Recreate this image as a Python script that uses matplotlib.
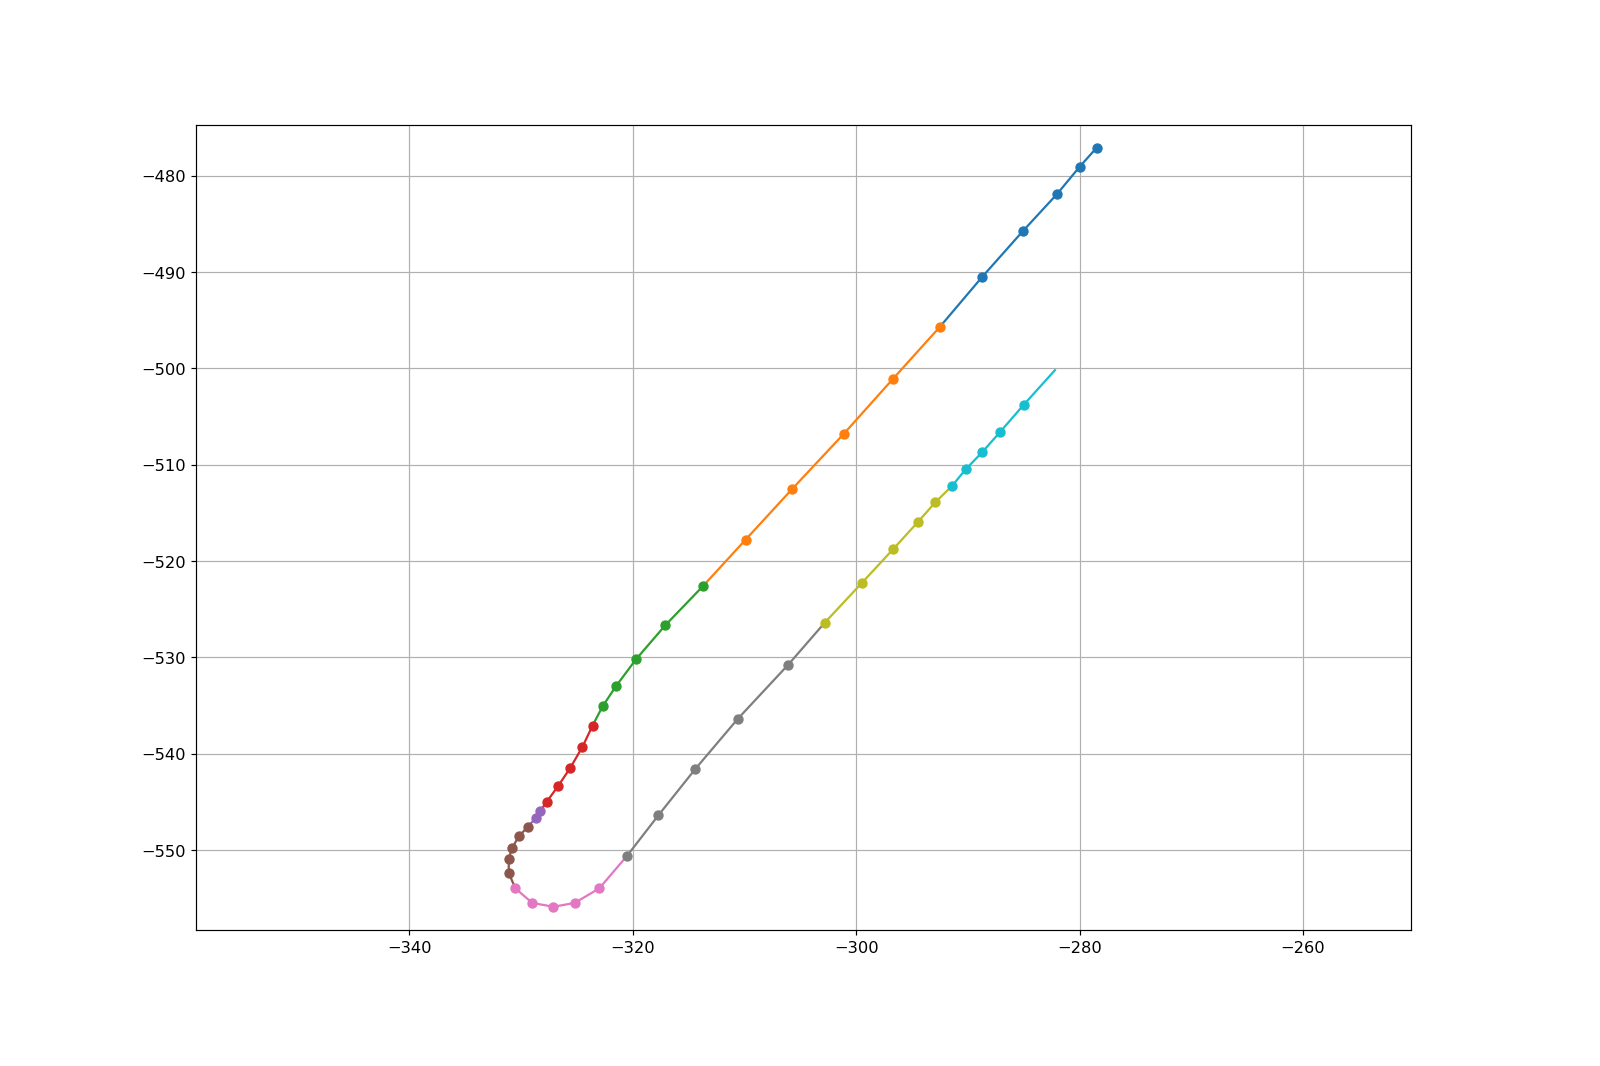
import matplotlib
matplotlib.use('Agg')
import matplotlib.pyplot as plt

# segments of the trajectory, one colour each
blue_x = [-278.46, -280.0, -282.0, -285.1, -288.7]
blue_y = [-477.1, -479.1, -481.9, -485.8, -490.5]
orange_x = [-292.5, -296.7, -301.1, -305.7, -309.9]
orange_y = [-495.7, -501.1, -506.8, -512.5, -517.8]
green_x = [-313.7, -317.1, -319.7, -321.5, -322.7]
green_y = [-522.6, -526.7, -530.2, -533.0, -535.1]
red_x = [-323.6, -324.5, -325.6, -326.7, -327.7]
red_y = [-537.1, -539.3, -541.5, -543.4, -545.0]
purple_x = [-328.3, -328.7]
purple_y = [-546.0, -546.7]
brown_x = [-329.4, -330.2, -330.8, -331.1, -331.1]
brown_y = [-547.6, -548.6, -549.8, -550.9, -552.4]
pink_x = [-330.5, -329.0, -327.1, -325.2, -323.0]
pink_y = [-554.0, -555.5, -555.9, -555.5, -554.0]
grey_x = [-320.5, -317.7, -314.4, -310.6, -306.1]
grey_y = [-550.6, -546.4, -541.6, -536.4, -530.8]
olive_x = [-302.8, -299.5, -296.7, -294.5, -292.9]
olive_y = [-526.4, -522.3, -518.8, -516.0, -513.9]
cyan_x = [-291.4, -290.2, -288.7, -287.1, -285.0]
cyan_y = [-512.2, -510.5, -508.7, -506.6, -503.8]
end_x, end_y = -282.2, -500.2

segments = [(blue_x, blue_y), (orange_x, orange_y), (green_x, green_y), (red_x, red_y),
            (purple_x, purple_y), (brown_x, brown_y), (pink_x, pink_y), (grey_x, grey_y),
            (olive_x, olive_y), (cyan_x, cyan_y)]
colors = plt.rcParams['axes.prop_cycle'].by_key()['color']

fig = plt.figure(figsize=(15, 10), dpi=106.67)
ax = fig.add_axes([0.1225, 0.1276, 0.7595, 0.755])

for i, (xs, ys) in enumerate(segments):
    if i + 1 < len(segments):
        lx = xs + [segments[i + 1][0][0]]
        ly = ys + [segments[i + 1][1][0]]
    else:
        lx = xs + [end_x]
        ly = ys + [end_y]
    ax.plot(lx, ly, color=colors[i], lw=1.5)
    ax.plot(xs, ys, 'o', color=colors[i], ms=6)

ax.set_xlim(-359.1, -250.3)
ax.set_ylim(-558.3, -474.7)
ax.set_xticks([-340, -320, -300, -280, -260])
ax.tick_params(labelsize=11)
ax.grid(True)
fig.savefig('out.png')
